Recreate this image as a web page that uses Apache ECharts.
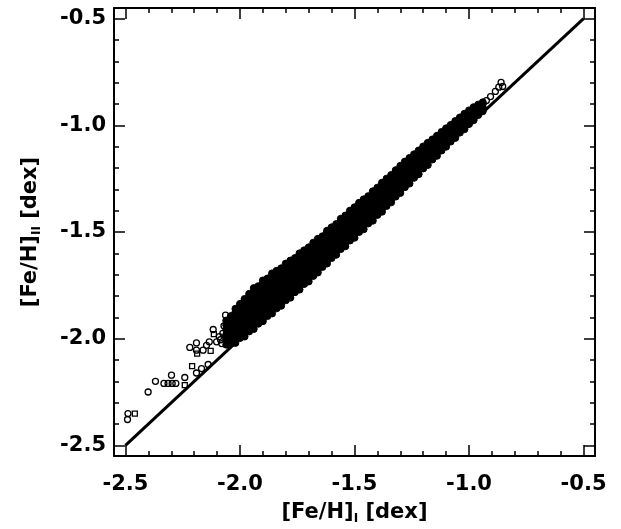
<!DOCTYPE html>
<html>
<head>
<meta charset="utf-8">
<script src="https://cdn.jsdelivr.net/npm/echarts@6/dist/echarts.min.js"></script>
<style>
  html, body { margin: 0; padding: 0; background: #fff; }
  #chart { width: 621px; height: 529px; }
</style>
</head>
<body>
<div id="chart"></div>
<script>
// Axis range and tick positions (same on both axes)
const axisMin = -2.55;
const axisMax = -0.45;
const majorTicks = [-2.5, -2.0, -1.5, -1.0, -0.5];
const minorTicks = [-2.4, -2.3, -2.2, -2.1, -1.9, -1.8, -1.7, -1.6, -1.4, -1.3, -1.2, -1.1, -0.9, -0.8, -0.7, -0.6];

// One-to-one reference line
const lineFeHI = [-2.5, -0.5];
const lineFeHII = [-2.5, -0.5];

// Sparse metal-poor and metal-rich stars (open circles)
const sparseFeHI = [-2.491, -2.489, -2.401, -2.369, -2.332, -2.314, -2.296, -2.280, -2.299, -2.241, -2.190, -2.168, -2.139,
  -2.219, -2.190, -2.190, -2.161, -2.146, -2.117, -2.134, -2.102, -2.080, -2.063, -2.090, -2.075, -2.070, -2.085,
  -0.924, -0.906, -0.885, -0.870, -0.853, -0.860];
const sparseFeHII = [-2.379, -2.351, -2.250, -2.200, -2.210, -2.210, -2.210, -2.210, -2.171, -2.182, -2.161, -2.140, -2.121,
  -2.041, -2.020, -2.054, -2.054, -2.031, -1.957, -2.015, -2.015, -2.023, -1.890, -1.990, -1.975, -1.940, -2.005,
  -0.884, -0.865, -0.841, -0.821, -0.818, -0.799];

// Stars drawn with open squares
const squareFeHI = [-2.459, -2.241, -2.209, -2.187, -2.128, -2.114];
const squareFeHII = [-2.351, -2.218, -2.129, -2.070, -2.057, -1.979];

// Main sequence of stars: [Fe/H]_I per column and the [Fe/H]_II values found there
const bandFeHI = [-2.06, -2.04, -2.02, -2.00, -1.98, -1.96, -1.94, -1.92, -1.90, -1.88, -1.86, -1.84, -1.82, -1.80,
  -1.78, -1.76, -1.74, -1.72, -1.70, -1.68, -1.66, -1.64, -1.62, -1.60, -1.58, -1.56, -1.54, -1.52, -1.50, -1.48,
  -1.46, -1.44, -1.42, -1.40, -1.38, -1.36, -1.34, -1.32, -1.30, -1.28, -1.26, -1.24, -1.22, -1.20, -1.18, -1.16,
  -1.14, -1.12, -1.10, -1.08, -1.06, -1.04, -1.02, -1.00, -0.98, -0.96, -0.94];
const bandFeHII = [
  [-2.028, -2.004, -1.981, -1.958, -1.936, -1.915],
  [-2.022, -2.006, -1.990, -1.974, -1.958, -1.942, -1.926, -1.910, -1.894],
  [-2.020, -2.004, -1.988, -1.972, -1.956, -1.940, -1.924, -1.908, -1.892, -1.876, -1.860],
  [-1.997, -1.981, -1.965, -1.949, -1.933, -1.917, -1.901, -1.885, -1.869, -1.853, -1.837],
  [-1.990, -1.974, -1.958, -1.942, -1.926, -1.910, -1.894, -1.878, -1.862, -1.846, -1.830, -1.814],
  [-1.966, -1.950, -1.934, -1.918, -1.902, -1.886, -1.870, -1.854, -1.838, -1.822, -1.806, -1.790],
  [-1.955, -1.939, -1.923, -1.907, -1.891, -1.875, -1.859, -1.843, -1.827, -1.811, -1.795, -1.779, -1.763],
  [-1.930, -1.914, -1.898, -1.882, -1.866, -1.850, -1.834, -1.818, -1.802, -1.786, -1.770, -1.754],
  [-1.918, -1.902, -1.886, -1.870, -1.854, -1.838, -1.822, -1.806, -1.790, -1.774, -1.758, -1.742, -1.727],
  [-1.894, -1.878, -1.862, -1.846, -1.830, -1.814, -1.798, -1.782, -1.766, -1.750, -1.734, -1.718],
  [-1.882, -1.866, -1.850, -1.834, -1.818, -1.802, -1.786, -1.770, -1.754, -1.738, -1.722, -1.706, -1.694],
  [-1.858, -1.842, -1.826, -1.810, -1.794, -1.778, -1.762, -1.746, -1.730, -1.714, -1.698, -1.682],
  [-1.846, -1.830, -1.814, -1.798, -1.782, -1.766, -1.750, -1.734, -1.718, -1.702, -1.686, -1.670],
  [-1.820, -1.804, -1.788, -1.772, -1.756, -1.740, -1.724, -1.708, -1.692, -1.676, -1.660, -1.648],
  [-1.808, -1.792, -1.776, -1.760, -1.744, -1.728, -1.712, -1.696, -1.680, -1.664, -1.648, -1.634],
  [-1.782, -1.766, -1.750, -1.734, -1.718, -1.702, -1.686, -1.670, -1.654, -1.638, -1.622],
  [-1.770, -1.754, -1.738, -1.722, -1.706, -1.690, -1.674, -1.658, -1.642, -1.626, -1.610, -1.600],
  [-1.744, -1.728, -1.712, -1.696, -1.680, -1.664, -1.648, -1.632, -1.616, -1.600, -1.586],
  [-1.732, -1.716, -1.700, -1.684, -1.668, -1.652, -1.636, -1.620, -1.604, -1.588, -1.572],
  [-1.706, -1.690, -1.674, -1.658, -1.642, -1.626, -1.610, -1.594, -1.578, -1.562, -1.550],
  [-1.690, -1.674, -1.658, -1.642, -1.626, -1.610, -1.594, -1.578, -1.562, -1.546, -1.532],
  [-1.664, -1.648, -1.632, -1.616, -1.600, -1.584, -1.568, -1.552, -1.536, -1.520],
  [-1.648, -1.632, -1.616, -1.600, -1.584, -1.568, -1.552, -1.536, -1.520, -1.504, -1.494],
  [-1.622, -1.606, -1.590, -1.574, -1.558, -1.542, -1.526, -1.510, -1.494, -1.478],
  [-1.607, -1.591, -1.575, -1.559, -1.543, -1.527, -1.511, -1.495, -1.479, -1.463],
  [-1.580, -1.564, -1.548, -1.532, -1.516, -1.500, -1.484, -1.468, -1.452, -1.438],
  [-1.567, -1.551, -1.535, -1.519, -1.503, -1.487, -1.471, -1.455, -1.439, -1.423],
  [-1.540, -1.524, -1.508, -1.492, -1.476, -1.460, -1.444, -1.428, -1.412, -1.400],
  [-1.527, -1.511, -1.495, -1.479, -1.463, -1.447, -1.431, -1.415, -1.399, -1.384],
  [-1.500, -1.484, -1.468, -1.452, -1.436, -1.420, -1.404, -1.388, -1.372, -1.363],
  [-1.487, -1.471, -1.455, -1.439, -1.423, -1.407, -1.391, -1.375, -1.359, -1.347],
  [-1.460, -1.444, -1.428, -1.412, -1.396, -1.380, -1.364, -1.348, -1.332],
  [-1.447, -1.431, -1.415, -1.399, -1.383, -1.367, -1.351, -1.335, -1.319, -1.309],
  [-1.420, -1.404, -1.388, -1.372, -1.356, -1.340, -1.324, -1.308, -1.292],
  [-1.405, -1.389, -1.373, -1.357, -1.341, -1.325, -1.309, -1.293, -1.277, -1.269],
  [-1.378, -1.362, -1.346, -1.330, -1.314, -1.298, -1.282, -1.266, -1.250],
  [-1.361, -1.345, -1.329, -1.313, -1.297, -1.281, -1.265, -1.249, -1.233],
  [-1.334, -1.318, -1.302, -1.286, -1.270, -1.254, -1.238, -1.222, -1.210],
  [-1.317, -1.301, -1.285, -1.269, -1.253, -1.237, -1.221, -1.205, -1.190],
  [-1.290, -1.274, -1.258, -1.242, -1.226, -1.210, -1.194, -1.178, -1.170],
  [-1.273, -1.257, -1.241, -1.225, -1.209, -1.193, -1.177, -1.161, -1.153],
  [-1.246, -1.230, -1.214, -1.198, -1.182, -1.166, -1.150, -1.136],
  [-1.229, -1.213, -1.197, -1.181, -1.165, -1.149, -1.133, -1.118],
  [-1.202, -1.186, -1.170, -1.154, -1.138, -1.122, -1.106, -1.099],
  [-1.186, -1.170, -1.154, -1.138, -1.122, -1.106, -1.090, -1.082],
  [-1.160, -1.144, -1.128, -1.112, -1.096, -1.080, -1.066],
  [-1.143, -1.127, -1.111, -1.095, -1.079, -1.063, -1.049],
  [-1.118, -1.102, -1.086, -1.070, -1.054, -1.038, -1.031],
  [-1.100, -1.084, -1.068, -1.052, -1.036, -1.020, -1.014],
  [-1.076, -1.060, -1.044, -1.028, -1.012, -0.998],
  [-1.059, -1.043, -1.027, -1.011, -0.995, -0.980],
  [-1.034, -1.018, -1.002, -0.986, -0.970, -0.963],
  [-1.018, -1.002, -0.986, -0.970, -0.954, -0.946],
  [-0.994, -0.978, -0.962, -0.946, -0.930],
  [-0.976, -0.960, -0.944, -0.928, -0.915],
  [-0.952, -0.936, -0.920, -0.903],
  [-0.934, -0.918, -0.900, -0.892]
];

// Build [x, y] pairs for the library
const bandPoints = [];
bandFeHI.forEach((x, i) => bandFeHII[i].forEach(y => bandPoints.push([x, y])));
const sparsePoints = sparseFeHI.map((x, i) => [x, sparseFeHII[i]]);
const squarePoints = squareFeHI.map((x, i) => [x, squareFeHII[i]]);
const linePoints = lineFeHI.map((x, i) => [x, lineFeHII[i]]);

const FONT = '"DejaVu Sans", sans-serif';
const gridRect = { left: 114, right: 26, top: 8, bottom: 73, outerBoundsMode: 'none', containLabel: false };

function titleRich() {
  return {
    a: { fontFamily: FONT, fontWeight: 'bold', fontSize: 21, color: '#000' },
    s: { fontFamily: FONT, fontWeight: 'bold', fontSize: 12, color: '#000', verticalAlign: 'bottom', padding: [0, 0, -2, 0] }
  };
}

function makeAxis(kind, gridIndex, position, ticks, tickLen, withLabels, withLine) {
  return {
    type: 'value', gridIndex, position, min: axisMin, max: axisMax,
    splitLine: { show: false },
    axisLine: { show: withLine, onZero: false, lineStyle: { color: '#000', width: 2 } },
    axisTick: { show: true, inside: true, length: tickLen, customValues: ticks, lineStyle: { color: '#000', width: 1.5 } },
    axisLabel: withLabels
      ? { show: true, customValues: ticks, formatter: v => Number(v).toFixed(1), fontFamily: FONT, fontWeight: 'bold', fontSize: 21, color: '#000', margin: kind === 'x' ? 18 : 8 }
      : { show: false }
  };
}

const xAxes = [
  makeAxis('x', 0, 'bottom', majorTicks, 11, true, true),
  makeAxis('x', 0, 'top', majorTicks, 11, false, true),
  makeAxis('x', 1, 'bottom', minorTicks, 5, false, false),
  makeAxis('x', 1, 'top', minorTicks, 5, false, false)
];
xAxes[0].name = '{a|[Fe/H]}{s|I}{a| [dex]}';
xAxes[0].nameLocation = 'middle';
xAxes[0].nameGap = 46;
xAxes[0].nameTextStyle = { rich: titleRich() };

const yAxes = [
  makeAxis('y', 0, 'left', majorTicks, 11, true, true),
  makeAxis('y', 0, 'right', majorTicks, 11, false, true),
  makeAxis('y', 1, 'left', minorTicks, 5, false, false),
  makeAxis('y', 1, 'right', minorTicks, 5, false, false)
];
yAxes[0].name = '{a|[Fe/H]}{s|II}{a| [dex]}';
yAxes[0].nameLocation = 'middle';
yAxes[0].nameRotate = 90;
yAxes[0].nameGap = 73;
yAxes[0].nameTextStyle = { rich: titleRich() };

const openMark = { color: 'rgba(255,255,255,0)', borderColor: '#000', borderWidth: 1.3, opacity: 1 };

const chart = echarts.init(document.getElementById('chart'), null, { renderer: 'canvas' });
chart.setOption({
  animation: false,
  backgroundColor: '#fff',
  grid: [Object.assign({}, gridRect), Object.assign({}, gridRect)],
  xAxis: xAxes,
  yAxis: yAxes,
  series: [
    {
      type: 'line', xAxisIndex: 0, yAxisIndex: 0, data: linePoints,
      showSymbol: false, symbol: 'none', silent: true, z: 1,
      lineStyle: { color: '#000', width: 3 }
    },
    {
      // densely overlapping stars merge into a solid black band
      type: 'scatter', xAxisIndex: 0, yAxisIndex: 0, data: bandPoints,
      symbol: 'circle', symbolSize: 7, silent: true, z: 2,
      itemStyle: { color: '#000', borderColor: '#000', borderWidth: 1, opacity: 1 }
    },
    {
      type: 'scatter', xAxisIndex: 0, yAxisIndex: 0, data: sparsePoints,
      symbol: 'circle', symbolSize: 6, silent: true, z: 2,
      itemStyle: openMark
    },
    {
      type: 'scatter', xAxisIndex: 0, yAxisIndex: 0, data: squarePoints,
      symbol: 'rect', symbolSize: 5, silent: true, z: 2,
      itemStyle: openMark
    }
  ]
});
</script>
</body>
</html>
